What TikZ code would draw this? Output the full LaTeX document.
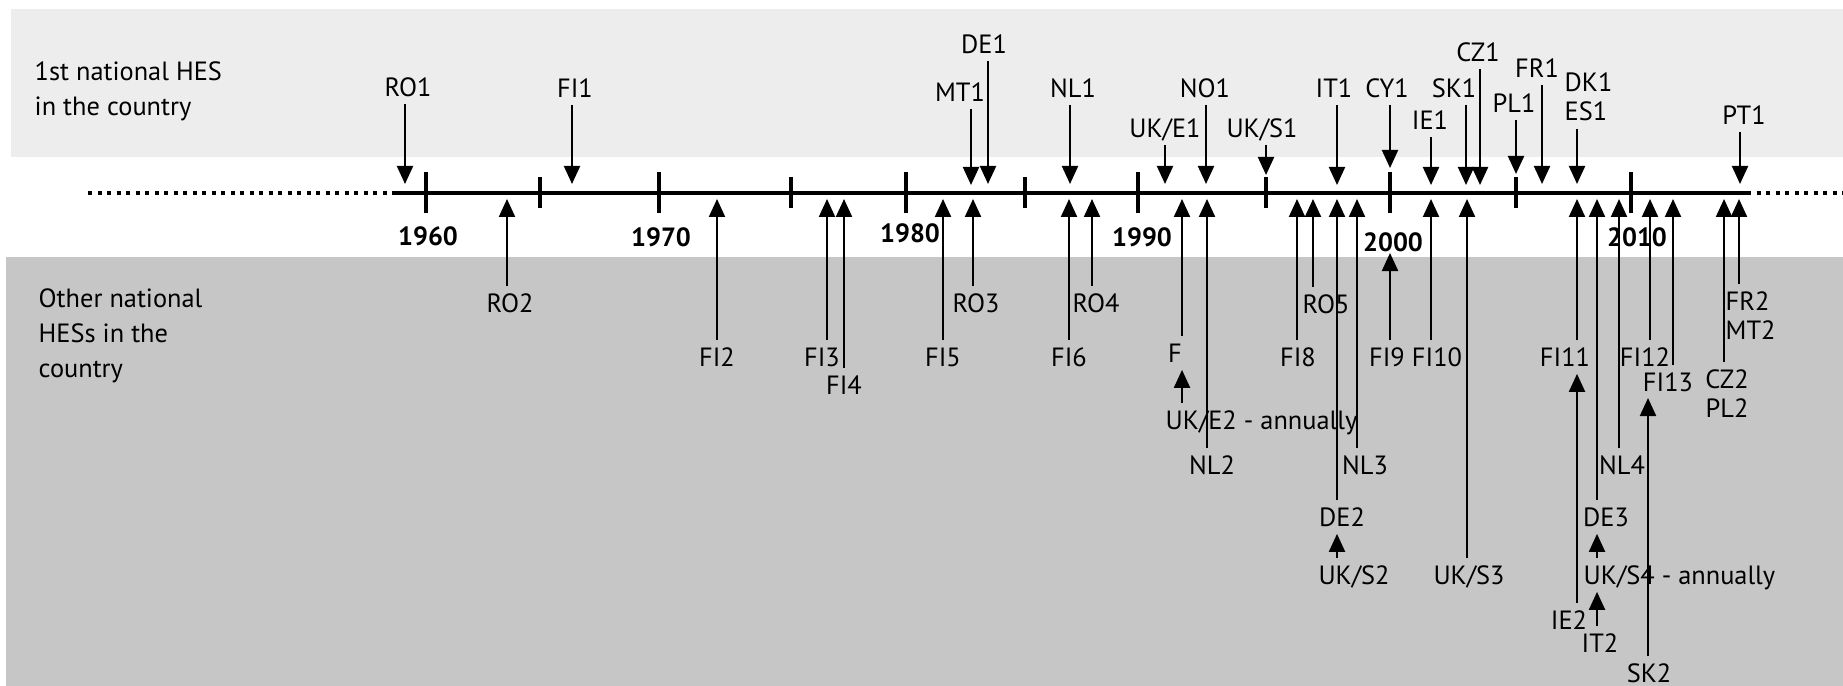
\documentclass[tikz,border=0pt]{standalone}
\usepackage{fontspec}
\setmainfont{PT Sans}
\usetikzlibrary{arrows.meta}

\definecolor{bandtop}{HTML}{EDEDED}
\definecolor{bandbot}{HTML}{C6C6C6}

\begin{document}
\begin{tikzpicture}[
        x=0.01cm, y=-0.01cm,
        font=\fontsize{7.5pt}{10pt}\selectfont,
        lbl/.style={
            inner xsep=0pt,
            inner ysep=2pt,
            text height=5.2pt,
            text depth=0pt
        },
        stack/.style={
            inner xsep=0pt,
            inner ysep=2pt,
            align=left,
            font=\fontsize{7.5pt}{8.2pt}\selectfont
        },
        side/.style={
            inner sep=0pt,
            align=left,
            anchor=north west
        },
        year/.style={
            lbl,
            font=\fontsize{7.5pt}{10pt}\selectfont\bfseries
        },
        arrow/.style={-{Triangle[length=0.18cm, width=0.16cm]}, line width=0.6pt},
        axis/.style={line width=1.05pt},
        dots/.style={line width=1pt, dash pattern=on 0.04cm off 0.055cm},
        tick/.style={line width=0.9pt}
    ]
        \useasboundingbox (0,0) rectangle (1843,686);

        % bands
        \fill[bandtop] (11,9) rectangle (1843,157);
        \fill[bandbot] (6,257) rectangle (1843,686);

        \node[side] (first) at (34,61) {1st national HES\\in the country};
        \node[side] (other) at (38,288) {Other national\\HESs in the\\country};

        % time axis
        \coordinate (dotL) at (88,193);
        \coordinate (axL) at (392,193);
        \coordinate (axR) at (1747,193);
        \coordinate (dotR) at (1843,193);
        \draw[dots] (dotL) -- (axL);
        \draw[axis] (axL) -- (axR);
        \draw[dots] (axR) -- (dotR);

        \foreach \x in {426,659,906,1138,1390,1631}
            \draw[tick] (\x,172) -- (\x,213);
        \foreach \x in {540,791,1025,1266,1516}
            \draw[tick] (\x,177) -- (\x,208);

        \node[year] (y1960) at (428,236) {1960};
        \node[year] (y1970) at (661,237) {1970};
        \node[year] (y1980) at (910,233) {1980};
        \node[year] (y1990) at (1142,237) {1990};
        \node[year] (y2000) at (1393,242) {2000};
        \node[year] (y2010) at (1637,237) {2010};

        % first surveys
        \node[lbl] (ro1) at (408,87) {RO1};
        \node[lbl] (fi1) at (575,88) {FI1};
        \node[lbl] (mt1) at (960,92) {MT1};
        \node[lbl] (de1) at (984,44) {DE1};
        \node[lbl] (nl1) at (1073,88) {NL1};
        \node[lbl] (uke1) at (1165,128) {UK/E1};
        \node[lbl] (no1) at (1205,88) {NO1};
        \node[lbl] (uks1) at (1262,128) {UK/S1};
        \node[lbl] (it1) at (1334,88) {IT1};
        \node[lbl] (cy1) at (1387,88) {CY1};
        \node[lbl] (ie1) at (1430,120) {IE1};
        \node[lbl] (sk1) at (1454,88) {SK1};
        \node[lbl] (cz1) at (1478,52) {CZ1};
        \node[lbl] (pl1) at (1514,103) {PL1};
        \node[lbl] (fr1) at (1537,68) {FR1};
        \node[stack, anchor=west] (dkes1) at (1564,97) {DK1\\ES1};
        \node[lbl] (pt1) at (1744,115) {PT1};

        \coordinate (ro1t) at (405,184);
        \coordinate (fi1t) at (572,184);
        \coordinate (mt1t) at (971,185);
        \coordinate (de1t) at (988,184);
        \coordinate (nl1t) at (1070,184);
        \coordinate (uke1t) at (1165,184);
        \coordinate (no1t) at (1206,184);
        \coordinate (uks1t) at (1266,175);
        \coordinate (it1t) at (1337,185);
        \coordinate (cy1t) at (1390,168);
        \coordinate (ie1t) at (1431,185);
        \coordinate (sk1t) at (1466,185);
        \coordinate (cz1t) at (1480,185);
        \coordinate (pl1t) at (1516,174);
        \coordinate (fr1t) at (1542,184);
        \coordinate (dkes1t) at (1577,184);
        \coordinate (pt1t) at (1740,184);

        \draw[arrow] (ro1.south -| ro1t) -- (ro1t);
        \draw[arrow] (fi1.south -| fi1t) -- (fi1t);
        \draw[arrow] (mt1.south -| mt1t) -- (mt1t);
        \draw[arrow] (de1.south -| de1t) -- (de1t);
        \draw[arrow] (nl1.south -| nl1t) -- (nl1t);
        \draw[arrow] (uke1.south -| uke1t) -- (uke1t);
        \draw[arrow] (no1.south -| no1t) -- (no1t);
        \draw[arrow] (uks1.south -| uks1t) -- (uks1t);
        \draw[arrow] (it1.south -| it1t) -- (it1t);
        \draw[arrow] (cy1.south -| cy1t) -- (cy1t);
        \draw[arrow] (ie1.south -| ie1t) -- (ie1t);
        \draw[arrow] (sk1.south -| sk1t) -- (sk1t);
        \draw[arrow] (cz1.south -| cz1t) -- (cz1t);
        \draw[arrow] (pl1.south -| pl1t) -- (pl1t);
        \draw[arrow] (fr1.south -| fr1t) -- (fr1t);
        \draw[arrow] (dkes1.south -| dkes1t) -- (dkes1t);
        \draw[arrow] (pt1.south -| pt1t) -- (pt1t);

        % other surveys
        \node[lbl] (ro2) at (510,303) {RO2};
        \node[lbl] (fi2) at (717,357) {FI2};
        \node[lbl] (fi3) at (822,357) {FI3};
        \node[lbl] (fi4) at (844,385) {FI4};
        \node[lbl] (fi5) at (943,357) {FI5};
        \node[lbl] (ro3) at (976,303) {RO3};
        \node[lbl] (fi6) at (1069,357) {FI6};
        \node[lbl] (ro4) at (1096,303) {RO4};
        \node[lbl] (f) at (1175,353) {F};
        \node[lbl, anchor=west] (uke2) at (1165,420) {UK/E2 - annually};
        \node[lbl] (nl2) at (1212,465) {NL2};
        \node[lbl] (fi8) at (1298,357) {FI8};
        \node[lbl] (ro5) at (1326,304) {RO5};
        \node[lbl] (de2) at (1342,517) {DE2};
        \node[lbl] (uks2) at (1354,575) {UK/S2};
        \node[lbl] (nl3) at (1365,465) {NL3};
        \node[lbl] (fi9) at (1387,357) {FI9};
        \node[lbl] (fi10) at (1437,357) {FI10};
        \node[lbl] (uks3) at (1469,575) {UK/S3};
        \node[lbl] (fi11) at (1565,357) {FI11};
        \node[lbl] (ie2) at (1569,620) {IE2};
        \node[lbl] (de3) at (1606,517) {DE3};
        \node[lbl, anchor=west] (uks4) at (1583,575) {UK/S4 - annually};
        \node[lbl] (it2) at (1600,643) {IT2};
        \node[lbl] (nl4) at (1622,465) {NL4};
        \node[lbl] (fi12) at (1645,357) {FI12};
        \node[lbl] (fi13) at (1668,382) {FI13};
        \node[lbl] (sk2) at (1649,673) {SK2};
        \node[stack, align=center] (czpl2) at (1727,394) {CZ2\\PL2};
        \node[stack, anchor=west] (frmt2) at (1725,316) {FR2\\MT2};

        \coordinate (ro2t) at (507,199);
        \coordinate (fi2t) at (717,199);
        \coordinate (fi3t) at (827,199);
        \coordinate (fi4t) at (844,199);
        \coordinate (fi5t) at (943,199);
        \coordinate (ro3t) at (973,199);
        \coordinate (fi6t) at (1069,199);
        \coordinate (ro4t) at (1092,199);
        \coordinate (ft) at (1182,199);
        \coordinate (nl2t) at (1207,199);
        \coordinate (fi8t) at (1297,199);
        \coordinate (ro5t) at (1313,199);
        \coordinate (de2t) at (1337,199);
        \coordinate (nl3t) at (1357,199);
        \coordinate (fi9t) at (1390,253);
        \coordinate (fi10t) at (1431,199);
        \coordinate (uks3t) at (1467,199);
        \coordinate (fi11t) at (1577,199);
        \coordinate (de3t) at (1597,199);
        \coordinate (nl4t) at (1619,199);
        \coordinate (fi12t) at (1650,199);
        \coordinate (sk2t) at (1648,398);
        \coordinate (fi13t) at (1673,199);
        \coordinate (czpl2t) at (1724,199);
        \coordinate (frmt2t) at (1739,199);

        \draw[arrow] (ro2.north -| ro2t) -- (ro2t);
        \draw[arrow] (fi2.north -| fi2t) -- (fi2t);
        \draw[arrow] (fi3.north -| fi3t) -- (fi3t);
        \draw[arrow] (fi4.north -| fi4t) -- (fi4t);
        \draw[arrow] (fi5.north -| fi5t) -- (fi5t);
        \draw[arrow] (ro3.north -| ro3t) -- (ro3t);
        \draw[arrow] (fi6.north -| fi6t) -- (fi6t);
        \draw[arrow] (ro4.north -| ro4t) -- (ro4t);
        \draw[arrow] (f.north -| ft) -- (ft);
        \draw[arrow] (uke2.north -| ft) -- (f.south -| ft);
        \draw[arrow] (nl2.north -| nl2t) -- (nl2t);
        \draw[arrow] (fi8.north -| fi8t) -- (fi8t);
        \draw[arrow] (ro5.north -| ro5t) -- (ro5t);
        \draw[arrow] (de2.north -| de2t) -- (de2t);
        \draw[arrow] (uks2.north -| de2t) -- (de2.south -| de2t);
        \draw[arrow] (nl3.north -| nl3t) -- (nl3t);
        \draw[arrow] (fi9.north -| fi9t) -- (fi9t);
        \draw[arrow] (fi10.north -| fi10t) -- (fi10t);
        \draw[arrow] (uks3.north -| uks3t) -- (uks3t);
        \draw[arrow] (fi11.north -| fi11t) -- (fi11t);
        \draw[arrow] (ie2.north -| fi11t) -- (fi11.south -| fi11t);
        \draw[arrow] (de3.north -| de3t) -- (de3t);
        \draw[arrow] (uks4.north -| de3t) -- (de3.south -| de3t);
        \draw[arrow] (it2.north -| de3t) -- (uks4.south -| de3t);
        \draw[arrow] (nl4.north -| nl4t) -- (nl4t);
        \draw[arrow] (fi12.north -| fi12t) -- (fi12t);
        \draw[arrow] (sk2.north -| sk2t) -- (sk2t);
        \draw[arrow] (fi13.north -| fi13t) -- (fi13t);
        \draw[arrow] (czpl2.north -| czpl2t) -- (czpl2t);
        \draw[arrow] (frmt2.north -| frmt2t) -- (frmt2t);
    \end{tikzpicture}
\end{document}
